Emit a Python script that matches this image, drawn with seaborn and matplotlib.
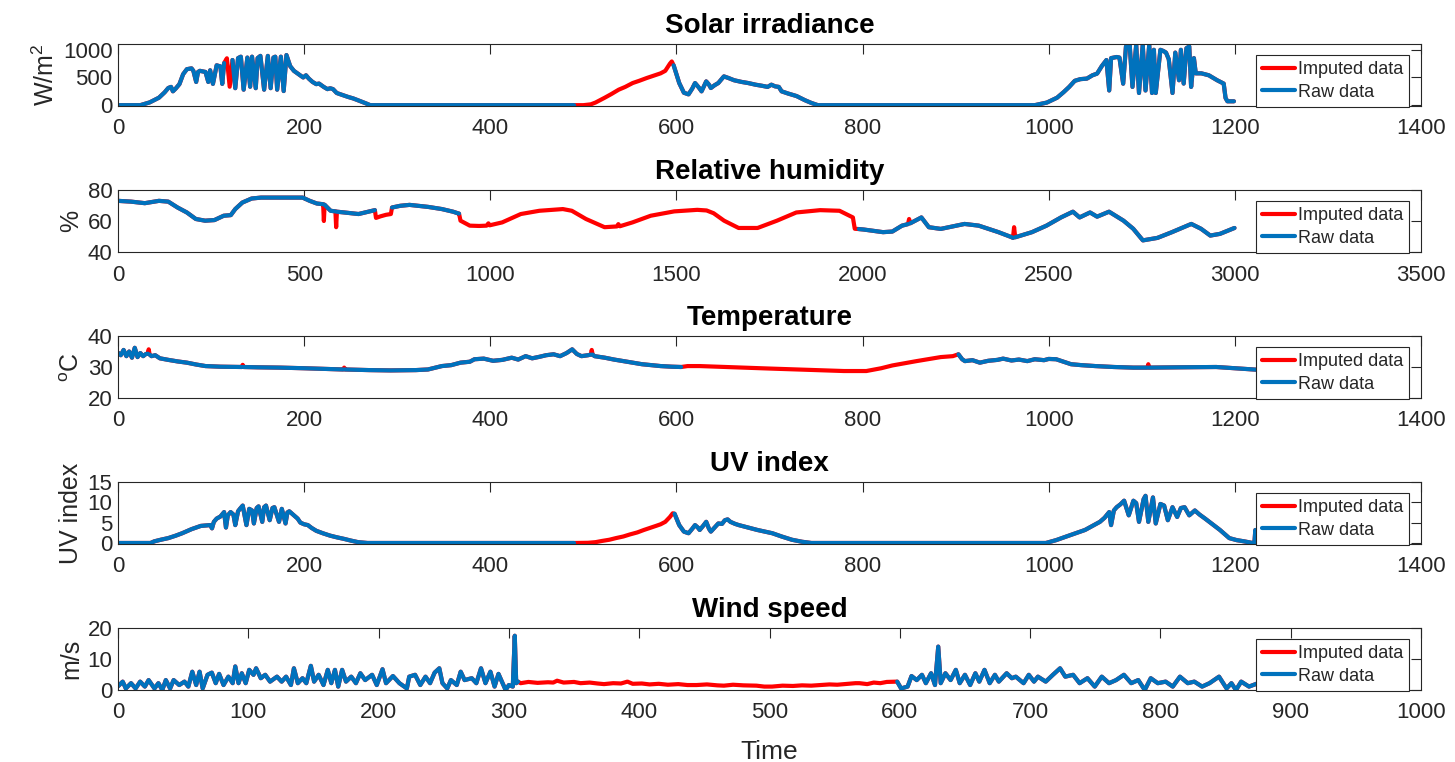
import numpy as np
import pandas as pd
import matplotlib
matplotlib.use("Agg")
import matplotlib.pyplot as plt
import seaborn as sns
from matplotlib.lines import Line2D

# ---------------- data ----------------
solar_pts = [(0,0),(24,0),(34,50),(44,135),(50,230),(54,310),(57,330),(59,250),(62,300),(66,380),
    (70,560),(74,650),(79,665),(81,620),(84,420),(86,600),(88,620),(94,600),(97,420),(99,630),
    (102,385),(106,720),(110,700),(112,385),(114,760),(117,847),(120,333),(123,816),(126,307),
    (129,850),(132,876),(135,280),(139,860),(142,333),(144,876),(148,307),(150,850),(153,890),
    (157,280),(161,890),(164,307),(167,860),(169,876),(171,280),(175,876),(178,255),(181,905),
    (185,705),(189,620),(194,560),(199,500),(202,540),(205,480),(209,420),(213,380),(216,390),
    (221,330),(225,290),(228,305),(231,290),(235,220),(240,190),(247,150),(253,120),(260,75),
    (266,35),(271,0),(490,0),(500,0),(508,15),(513,47),(518,90),(523,135),(530,200),(538,280),
    (545,330),(553,400),(560,440),(568,490),(575,530),(583,575),(588,620),(593,750),(595,790),
    (597,720),(600,560),(603,400),(608,225),(613,195),(617,300),(620,400),(624,320),(627,250),
    (632,430),(635,370),(637,310),(641,360),(645,400),(651,520),(656,490),(662,450),(670,420),
    (677,400),(685,370),(692,350),(698,330),(702,370),(706,340),(710,330),(713,250),(720,210),
    (729,165),(738,90),(745,40),(752,0),(985,0),(998,47),(1009,135),(1016,235),(1022,330),
    (1028,440),(1034,470),(1041,480),(1047,540),(1052,570),(1057,705),(1062,815),(1065,265),
    (1067,850),(1073,870),(1076,860),(1080,388),(1083,1060),(1087,1090),(1090,330),(1094,1090),
    (1097,220),(1101,1090),(1104,265),(1108,1090),(1111,220),(1113,1000),(1115,220),(1120,1000),
    (1123,980),(1126,950),(1129,830),(1133,220),(1136,950),(1140,450),(1142,1000),(1145,390),
    (1148,1030),(1151,1060),(1153,330),(1156,850),(1158,575),(1164,575),(1172,540),(1181,450),
    (1188,390),(1190,130),(1192,70),(1199,70)]
solar_imputed = [(115, 121), (490, 597)]

humid_pts = [(0,73),(35,72.5),(72,71.5),(110,73),(135,72.5),(160,68.7),(185,65.5),(209,61.3),
    (234,60.2),(259,60.6),(284,63.4),(303,63.8),(315,67.7),(334,71.9),(359,74.5),(384,75.1),
    (496,75.1),(515,73),(534,71.3),(548,70.9),(551,70.8),(553,60),(555,70.5),(571,66.6),
    (584,66.2),(586,56),(588,66),(608,65.5),(646,64.5),(683,66.6),(690,67),(693,62),(705,63),
    (720,64),(733,64.5),(736,68.7),(758,69.8),(783,70.4),(833,69.1),(870,67.7),(900,66),
    (914,64.9),(916,64.8),(920,60.2),(945,57),(970,56.8),(990,57),(995,58.5),(998,57.2),
    (1032,59.1),(1082,64.5),(1132,66.6),(1195,67.7),(1219,66.6),(1257,61.3),(1307,56),
    (1340,56.5),(1344,58),(1348,56.6),(1382,59.1),(1431,63.4),(1494,66.2),(1556,67.2),
    (1581,66.8),(1600,65),(1628,60.2),(1667,55.5),(1718,55.5),(1770,60.2),(1822,65.5),
    (1886,67),(1938,66.6),(1974,62.3),(1979,55),(1990,54.8),(2003,54.5),(2055,52.8),
    (2080,53.2),(2106,57),(2122,58),(2125,61.3),(2128,58.5),(2158,62.3),(2178,56),(2210,54.9),
    (2274,58.1),(2312,57),(2365,52.8),(2400,49.6),(2404,49.1),(2407,56),(2410,49.5),
    (2455,52.8),(2494,57),(2533,62.3),(2565,66),(2583,62.3),(2611,65.5),(2630,62.8),
    (2662,66),(2701,60.2),(2727,55),(2753,47.5),(2792,49.1),(2831,52.8),(2883,58.1),
    (2909,55),(2934,50.6),(2960,51.7),(2999,55.5)]
humid_imputed = [(552, 554), (585, 587), (690, 736), (916, 1990), (2124, 2126), (2406, 2408)]

temp_pts = [(0,34.6),(3,33.8),(6,35.5),(9,33.5),(12,35),(15,33),(18,36.2),(21,33.2),(24,34.5),
    (27,33.5),(30,34.2),(32,34.3),(33,35.7),(34,34),(36,33.5),(40,33.8),(45,32.8),(54,32.3),
    (64,31.8),(74,31.4),(84,30.8),(94,30.3),(110,30.1),(133,30),(134,30.7),(135,30),(150,29.9),
    (174,29.8),(200,29.6),(242,29.2),(243,29.8),(244,29.2),(270,29),(293,28.9),(320,29),
    (333,29.2),(348,30.3),(358,30.6),(368,31.4),(378,31.7),(383,32.5),(393,32.7),(403,32),
    (413,32.3),(423,33),(430,32.4),(438,33.5),(445,32.8),(453,33.3),(460,33.8),(468,34.1),
    (475,33.5),(482,34.5),(488,35.7),(493,34.2),(498,33.5),(505,33.8),(508,34),(509,35.5),
    (510,34),(512,33.5),(523,33),(533,32.4),(543,31.9),(553,31.4),(563,30.9),(573,30.6),
    (583,30.3),(595,30.1),(605,30),(612,30.3),(625,30.3),(700,29.5),(780,28.7),(804,28.7),
    (820,29.6),(832,30.5),(845,31.2),(858,31.9),(870,32.5),(884,33.2),(897,33.5),(903,34.1),
    (907,32.5),(910,31.9),(918,32.2),(926,31.4),(935,32),(945,32.3),(951,32.7),(960,32.1),
    (968,32.4),(977,31.9),(985,32.5),(995,32.2),(1000,32.6),(1008,32.5),(1015,31.8),(1024,30.9),
    (1035,30.6),(1050,30.3),(1070,30),(1091,29.8),(1106,29.8),(1107,30.9),(1108,29.8),
    (1140,29.9),(1180,30),(1200,29.6),(1230,29)]
temp_imputed = [(32.5, 33.5), (133.5, 134.5), (242.5, 243.5), (508.5, 509.5), (605, 900),
                (1106.5, 1107.5)]

uv_pts = [(0,0),(35,0),(39,0.4),(46,0.8),(54,1.2),(62,1.8),(69,2.4),(79,3.4),(89,4.2),(99,4.4),
    (101,3.6),(103,5.2),(106,6),(110,6.5),(114,7.6),(116,3.8),(118,6.8),(121,7.6),(124,7),
    (126,4.4),(129,7.8),(131,8.4),(134,9.2),(138,4.4),(141,8.4),(144,8),(146,4.8),(149,8.6),
    (151,9),(155,5.2),(157,8.8),(159,9.2),(163,5.6),(166,8.6),(168,8.8),(173,5.2),(176,8.4),
    (180,4.8),(182,7.5),(184,7.8),(189,6.8),(193,6),(196,5),(200,4.6),(204,4.4),(208,3.7),
    (213,3),(220,2.4),(228,1.8),(235,1.4),(243,1),(250,0.6),(258,0.2),(268,0),(490,0),
    (505,0.05),(513,0.2),(520,0.5),(528,0.8),(535,1.2),(543,1.6),(550,2.1),(558,2.6),(565,3.2),
    (573,3.8),(578,4.2),(583,4.6),(588,5.2),(593,6.4),(596,7.3),(598,7.2),(601,5.5),(603,4.4),
    (608,2.8),(613,2.4),(617,3.5),(620,4.4),(623,3.8),(625,3.2),(629,4.3),(632,5.2),(635,3.5),
    (637,2.8),(641,3.8),(645,4.8),(649,4.7),(652,5.6),(655,5.8),(658,5.2),(663,4.7),(667,4.4),
    (677,3.8),(687,3.2),(695,2.8),(703,2.4),(713,1.6),(724,0.8),(735,0.3),(745,0),(997,0),
    (1008,0.7),(1019,1.6),(1029,2.4),(1039,3.2),(1047,4.2),(1055,5.2),(1060,6.2),(1065,7.6),
    (1067,4.4),(1070,8),(1073,8.8),(1077,9.5),(1081,10.4),(1086,6.8),(1091,10.4),(1094,9.8),
    (1097,5.2),(1102,10.8),(1104,11.6),(1107,5.2),(1112,11.2),(1115,4.8),(1120,9.6),(1124,9.2),
    (1128,5.6),(1133,8.8),(1138,6.4),(1142,8.6),(1146,8.8),(1151,6.8),(1157,8),(1162,7),
    (1168,6),(1176,4.6),(1184,3.2),(1190,2),(1194,1.2),(1202,0.7),(1210,0.4),(1219,0),
    (1221,0),(1222,3.2),(1224,0),(1300,0)]
uv_imputed = [(490, 597)]

wind_pts = [(0,1.2),(1,1.6),(3.6,2.7),(6,0.5),(10,2.2),(13.5,0.5),(17,2.7),(20.6,1.1),(23.5,3.2),
    (28,0.5),(31,2.2),(34,0),(36.7,3.2),(40,0.5),(42.7,3.2),(47,1.6),(51,2.7),(54,1.1),(57,5.9),
    (60,1.6),(62.6,5.9),(65,0.5),(68.7,4.9),(72,5.6),(75,2.2),(77.6,5.2),(81,1.6),(84.7,4.3),
    (88,2.2),(90,7.6),(92.5,2.2),(95,5.4),(98,2.2),(100.7,6.5),(104,4.9),(106,7),(109.6,3.8),
    (113,4.9),(116.7,2.7),(122,4.3),(125.6,2.7),(129,4.3),(132.7,1.6),(135,7),(138,2.2),
    (141.6,3.8),(144.5,2.2),(148,7.8),(150.5,2.7),(154,4.9),(157.7,1.6),(161,6.5),(163.7,2.2),
    (166.5,6.5),(169,1.1),(172,6.5),(175,2.7),(179,4.3),(182.6,2.2),(186,5.4),(189.7,3.2),
    (195,4.9),(198.6,1.6),(203,6.7),(205.7,2.2),(211,4.5),(216,2.2),(221.7,0.5),(223.5,4.3),
    (228,4.9),(232,1.6),(236,4.3),(239.5,2.2),(243,5.6),(246.6,7),(249,2.2),(252.7,0.5),
    (255.5,3.2),(260,1.6),(263,5.9),(266,3.2),(271.5,3.8),(275,2.2),(278.6,7),(282,2.2),
    (285.8,5.9),(289,1.1),(292,5.2),(294.6,2.7),(297.5,0),(300,1.6),(303,1.1),(304.5,17.5),
    (305.6,2.2),(307,2.7),
    (309,2.2),(315,2.6),(322,2.3),(330,2.5),(334,2.4),(337,3),(342,2.4),(350,2.6),(355,2.2),
    (362,2.4),(368,2.1),(373,1.9),(380,2.2),(386,2.1),(391,2.7),(395,2),(402,2.1),(408,1.8),
    (415,2),(422,1.7),(430,1.9),(437,1.6),(444,1.6),(452,1.8),(460,1.5),(465,1.4),(472,1.7),
    (480,1.5),(490,1.4),(496,1.1),(502,1.1),(510,1.4),(518,1.3),(525,1.5),(532,1.4),(539,1.6),
    (546,1.8),(552,1.7),(560,2),(566,2.2),(569,2.2),(575,1.9),(580,2.4),(585,2.2),(590,2.6),
    (596,2.7),
    (598,2.7),(601,0.5),(606,1.1),(609,4.5),(613,3.2),(617,4.9),(620,2.2),(624,5.4),(627,1.6),
    (629.5,14),(631.4,2.2),(635,5.4),(639,3.2),(643,6.5),(646,2.2),(650,4.9),(654,1.6),(658,5.4),
    (661,2.7),(665,6.5),(669,2.2),(673,4.9),(676,2.7),(682,5.4),(686,3.8),(689,4.3),(695,2.2),
    (699,4.9),(703,2.7),(706,4.3),(712,2.7),(717.5,4.9),(723,7),(727,4.3),(733,4.9),(738,2.2),
    (744,3.8),(749.6,1.1),(755,4.3),(760.6,2.2),(766,3.2),(772,4.9),(777.6,2.2),(783,3.2),
    (788,0),(792.6,3.8),(798,2.2),(804,2.7),(809.5,1.1),(815,4.3),(821,2.2),(826,2.7),(832,1.1),
    (837.7,2.2),(845,4.3),(850.8,0.5),(854.5,2.2),(858,0),(862,2.7),(868,1.1),(875,2.2)]
wind_imputed = [(307, 598)]

titles = ["Solar irradiance", "Relative humidity", "Temperature", "UV index", "Wind speed"]
ylabels = ["W/m$^2$", "%", "$^{\\mathrm{o}}$C", "UV index", "m/s"]
xlims = [(0, 1400), (0, 3500), (0, 1400), (0, 1400), (0, 1000)]
xtick_steps = [200, 500, 200, 200, 100]
ylims = [(-15, 1105), (40, 80), (20, 40), (-0.25, 15), (0, 20)]
yticks = [[0, 500, 1000], [40, 60, 80], [20, 30, 40], [0, 5, 10, 15], [0, 10, 20]]
legend_labels = ["Imputed data", "Raw data"]

# ---------------- style ----------------
sns.set_theme(style="white")
plt.rcParams["font.family"] = ["Liberation Sans", "DejaVu Sans"]
plt.rcParams["mathtext.fontset"] = "custom"
plt.rcParams["mathtext.rm"] = "Liberation Sans"
plt.rcParams["mathtext.it"] = "Liberation Sans:italic"
plt.rcParams["mathtext.bf"] = "Liberation Sans:bold"

RED = "#FF0000"
BLUE = "#0072BD"
DARK = "#262626"
LW = 3.0


def frames(pts, spans):
    t = np.array([p[0] for p in pts], float)
    v = np.array([p[1] for p in pts], float)
    inside = np.zeros(len(t), bool)
    for a, b in spans:
        inside |= (t > a) & (t < b)
    full = pd.DataFrame({"t": t, "v": v, "seg": 0})
    seg_id = np.cumsum(np.r_[0, (np.diff(inside.astype(int)) != 0).astype(int)])
    raw = pd.DataFrame({"t": t[~inside], "v": v[~inside], "seg": seg_id[~inside]})
    return full, raw


fig = plt.figure(figsize=(14.55, 7.62), dpi=100)
W, H = 1455, 762
left_px, right_px = 118, 1421
tops_px = [44, 190, 336, 482, 628]
h_px = 62

series = [(solar_pts, solar_imputed), (humid_pts, humid_imputed), (temp_pts, temp_imputed),
          (uv_pts, uv_imputed), (wind_pts, wind_imputed)]

for i, (pts, spans) in enumerate(series):
    top = tops_px[i]
    ax = fig.add_axes([left_px / W, 1 - (top + h_px) / H, (right_px - left_px) / W, h_px / H])
    full, raw = frames(pts, spans)
    sns.lineplot(data=full, x="t", y="v", units="seg", estimator=None, color=RED,
                 lw=LW, ax=ax, legend=False, sort=False)
    sns.lineplot(data=raw, x="t", y="v", units="seg", estimator=None, color=BLUE,
                 lw=LW, ax=ax, legend=False, sort=False)
    ax.set_xlim(*xlims[i])
    ax.set_xticks(np.arange(xlims[i][0], xlims[i][1] + 1, xtick_steps[i]))
    ax.set_ylim(*ylims[i])
    ax.set_yticks(yticks[i])
    ax.set_title(titles[i], fontsize=20, fontweight="bold", pad=8, color="black")
    ax.set_ylabel(ylabels[i], fontsize=18, color=DARK, labelpad=3)
    ax.set_xlabel("Time" if i == 4 else "", fontsize=19, color=DARK, labelpad=12)
    ax.tick_params(direction="in", top=True, right=True, length=7, width=0.8,
                   colors=DARK, labelsize=16)
    ax.tick_params(axis="x", pad=9)
    ax.tick_params(axis="y", pad=4)
    for sp in ax.spines.values():
        sp.set_color(DARK)
        sp.set_linewidth(0.8)
    handles = [Line2D([0], [0], color=RED, lw=LW), Line2D([0], [0], color=BLUE, lw=LW)]
    leg = ax.legend(handles, legend_labels, loc="lower right", bbox_to_anchor=(0.991, -0.015),
                    frameon=True, fancybox=False, framealpha=1, edgecolor=DARK,
                    fontsize=13, borderpad=0.35, labelspacing=0.3, handlelength=1.8,
                    handletextpad=0.15, borderaxespad=0)
    leg.get_frame().set_linewidth(0.8)

fig.savefig("out.png", dpi=100)
